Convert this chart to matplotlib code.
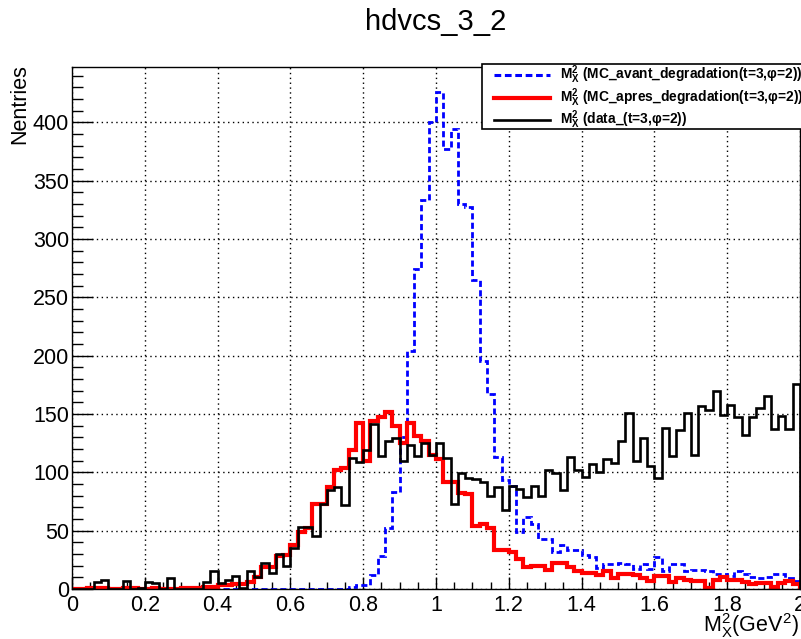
import numpy as np
import matplotlib
matplotlib.use("Agg")
import matplotlib.pyplot as plt
from matplotlib.ticker import MultipleLocator, FuncFormatter
from matplotlib.lines import Line2D
from matplotlib.patches import Rectangle

plt.rcParams['font.family'] = ['Liberation Sans', 'DejaVu Sans']

# HISTOGRAM CONTENTS (100 bins from 0 to 2 GeV^2)
edges = np.linspace(0, 2, 101)

mc_avant = [0, 0, 0, 0, 0, 0, 0, 0, 0, 0,
            0, 0, 0, 0, 0, 0, 0, 0, 0, 0,
            0, 0, 0, 0, 0, 0, 0, 0, 0, 0,
            0, 0, 0, 0, 0, 0, 0, 0, 2, 3,
            3, 12, 28, 52, 83, 130, 204, 274, 333, 400,
            426, 377, 394, 330, 327, 265, 195, 167, 113, 93,
            88, 49, 62, 56, 43, 43, 32, 38, 33, 33,
            29, 27, 18, 21, 21, 22, 21, 17, 21, 17,
            27, 15, 21, 21, 15, 16, 16, 15, 13, 13,
            11, 15, 13, 10, 9, 10, 13, 13, 9, 7]

mc_apres = [0, 0, 1, 1, 1, 0, 0, 1, 1, 0,
            0, 1, 0, 0, 0, 1, 1, 1, 2, 2,
            3, 3, 4, 4, 6, 10, 19, 19, 28, 29,
            38, 49, 52, 73, 73, 87, 102, 104, 119, 142,
            110, 144, 147, 152, 140, 125, 142, 131, 127, 115,
            111, 92, 92, 82, 81, 54, 56, 52, 33, 33,
            32, 26, 19, 20, 20, 16, 22, 22, 19, 15,
            14, 14, 12, 15, 9, 13, 13, 12, 9, 7,
            11, 11, 6, 9, 8, 7, 7, 1, 8, 10,
            8, 8, 6, 4, 5, 5, 2, 5, 7, 4]

data = [0, 0, 0, 6, 8, 0, 0, 7, 0, 1,
        6, 5, 0, 9, 0, 0, 0, 0, 6, 15,
        5, 8, 11, 1, 15, 10, 22, 14, 30, 20,
        35, 53, 53, 45, 73, 85, 87, 72, 112, 109,
        119, 141, 114, 127, 129, 110, 123, 114, 125, 115,
        125, 112, 73, 99, 95, 94, 92, 80, 87, 68,
        88, 86, 79, 88, 80, 102, 99, 85, 113, 102,
        96, 107, 100, 111, 108, 127, 151, 110, 129, 105,
        95, 138, 114, 136, 151, 115, 157, 153, 170, 149,
        158, 147, 132, 147, 155, 165, 137, 148, 137, 176]

labels = [r'M$_{\mathregular{X}}^{\mathregular{2}}$ (MC_avant_degradation(t=3,$\mathregular{\varphi}$=2))',
          r'M$_{\mathregular{X}}^{\mathregular{2}}$ (MC_apres_degradation(t=3,$\mathregular{\varphi}$=2))',
          r'M$_{\mathregular{X}}^{\mathregular{2}}$ (data_(t=3,$\mathregular{\varphi}$=2))']


def main():
    W, H = 801, 639
    fig = plt.figure(figsize=(W / 100, H / 100), dpi=100)
    ax = fig.add_axes([72 / W, 50 / H, 728 / W, 522 / H])

    ax.stairs(mc_avant, edges, color='blue', lw=2.0, ls=(0, (2.2, 1.2)), baseline=0)
    ax.stairs(mc_apres, edges, color='red', lw=3.0, baseline=0)
    ax.stairs(data, edges, color='black', lw=1.9, baseline=0)

    ax.set_xlim(0, 2)
    ax.set_ylim(0, 1.05 * max(mc_avant))

    ax.xaxis.set_major_locator(MultipleLocator(0.2))
    ax.xaxis.set_minor_locator(MultipleLocator(0.05))
    ax.yaxis.set_major_locator(MultipleLocator(50))
    ax.yaxis.set_minor_locator(MultipleLocator(10))
    ax.xaxis.set_major_formatter(FuncFormatter(lambda v, p: '%g' % round(v, 2)))
    ax.yaxis.set_major_formatter(FuncFormatter(lambda v, p: '%d' % v))

    ax.grid(True, which='major', ls=(0, (1, 2.5)), color='black', lw=1.0)
    ax.set_axisbelow(True)
    ax.tick_params(axis='both', which='both', direction='in', top=False, right=False,
                   labelsize=15.5, width=1)
    ax.tick_params(axis='x', which='major', length=9, pad=4)
    ax.tick_params(axis='x', which='minor', length=5)
    ax.tick_params(axis='y', which='major', length=15, pad=2)
    ax.tick_params(axis='y', which='minor', length=8)
    for s in ax.spines.values():
        s.set_linewidth(1)

    # TITLE AND AXIS LABELS
    fig.text(436 / W, 1 - 22 / H, 'hdvcs_3_2', ha='center', va='center', fontsize=21)
    fig.text(20 / W, 1 - 64 / H, 'Nentries', rotation=90, ha='center', va='top', fontsize=15.5)
    fig.text(799 / W, 1 - 626 / H, r'M$_{\mathregular{X}}^{\mathregular{2}}$(GeV$^{\mathregular{2}}$)',
             ha='right', va='center', fontsize=15.5)

    # LEGEND (ROOT style box)
    box = Rectangle((482 / W, 1 - 129 / H), 320 / W, 65 / H, transform=fig.transFigure,
                    facecolor='white', edgecolor='black', lw=1.2, zorder=5)
    fig.patches.append(box)
    styles = [dict(color='blue', lw=2.2, ls=(0, (2.2, 1.2))),
              dict(color='red', lw=3.0),
              dict(color='black', lw=1.9)]
    rows = [75, 98, 120]
    for yy, st, lab in zip(rows, styles, labels):
        fig.add_artist(Line2D([494 / W, 550 / W], [1 - yy / H, 1 - yy / H],
                              transform=fig.transFigure, zorder=6, **st))
        fig.text(560 / W, 1 - yy / H, lab, ha='left', va='center', fontsize=9.9,
                 fontweight='bold', zorder=6)

    fig.savefig('out.png', dpi=100)


if __name__ == "__main__":
    main()
